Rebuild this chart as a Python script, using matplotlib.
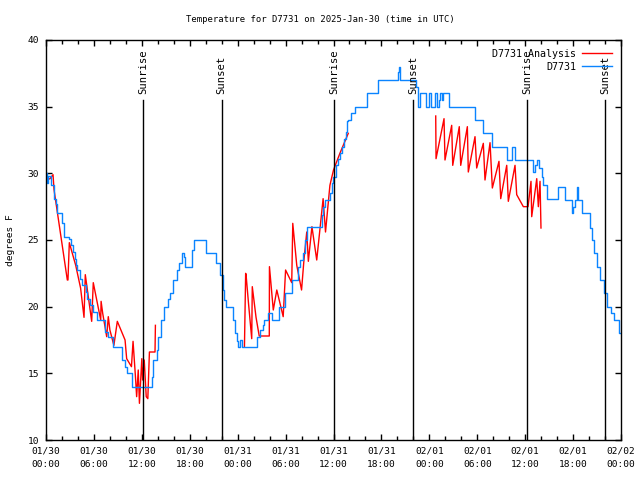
import matplotlib
matplotlib.use("Agg")
import matplotlib.pyplot as plt
import numpy as np

plt.rcParams['font.family'] = ['DejaVu Sans Mono']
plt.rcParams['font.size'] = 6.8

# hours after 2025-01-30 00:00 UTC, degrees F
obs_hours = [0.00, 0.16, 0.30, 0.59, 1.00, 1.21, 1.41, 2.04, 2.25, 2.88, 3.09, 3.38,
             3.59, 3.79, 3.92, 4.26, 4.55, 4.97, 5.17, 5.47, 5.89, 6.42, 7.39, 7.80,
             8.43, 9.48, 9.89, 10.10, 10.73, 13.02, 13.24, 13.44, 13.86, 14.06, 14.36,
             14.78, 15.31, 15.53, 15.94, 16.37, 16.69, 16.99, 17.28, 17.41, 17.94,
             18.24, 18.53, 20.00, 21.25, 21.79, 22.13, 22.29, 22.50, 23.45, 23.67,
             23.88, 24.00, 24.29, 24.50, 26.39, 26.80, 27.14, 27.34, 27.84, 28.30,
             29.18, 29.93, 30.77, 31.59, 31.80, 32.22, 32.43, 32.72, 34.52, 34.72,
             34.94, 35.56, 35.78, 35.98, 36.31, 36.60, 36.81, 37.03, 37.32, 37.53,
             37.70, 37.85, 38.13, 38.69, 40.16, 41.54, 44.04, 44.20, 44.33, 46.33,
             46.62, 46.83, 47.58, 48.00, 48.21, 48.71, 49.00, 49.25, 49.34, 49.55,
             49.75, 50.50, 53.72, 54.72, 55.85, 57.73, 58.35, 58.73, 61.02, 61.23,
             61.52, 61.73, 62.07, 62.27, 62.70, 64.15, 64.99, 65.83, 66.03, 66.24,
             66.45, 66.65, 67.07, 68.12, 68.33, 68.62, 68.99, 69.37, 69.87, 70.25,
             70.75, 71.12, 71.75, 72.00]
obs_temp = [30.0, 29.25, 29.8, 29.1, 28.1, 27.7, 27.0, 26.25, 25.25, 25.1, 24.6, 24.1,
            23.6, 23.1, 22.75, 22.1, 21.6, 21.1, 20.6, 20.1, 19.6, 19.0, 18.1, 17.75,
            17.0, 16.0, 15.5, 15.0, 14.0, 14.0, 14.75, 16.0, 16.75, 17.75, 19.0,
            20.0, 20.6, 21.0, 22.0, 22.75, 23.25, 24.0, 23.75, 23.0, 23.0,
            24.25, 25.0, 24.0, 23.25, 22.4, 21.25, 20.5, 20.0, 19.0, 18.0,
            17.4, 17.0, 17.5, 17.0, 17.75, 18.25, 18.6, 19.0, 19.5, 19.0,
            20.0, 21.0, 22.0, 23.0, 23.5, 24.0, 25.0, 26.0, 26.9, 27.5,
            28.0, 28.5, 29.25, 29.75, 30.6, 31.1, 31.5, 32.0, 32.6, 33.1,
            33.9, 34.0, 34.5, 35.0, 36.0, 37.0, 37.6, 38.0, 37.0, 36.5,
            35.0, 36.0, 35.0, 36.0, 35.0, 36.0, 35.0, 35.5, 36.0, 35.5,
            36.0, 35.0, 34.0, 33.0, 32.0, 31.0, 32.0, 31.0, 30.1, 30.6,
            31.0, 30.4, 29.75, 29.1, 28.1, 29.0, 28.0, 27.0, 27.5, 28.0,
            29.0, 28.0, 27.0, 25.9, 25.0, 24.0, 23.0, 22.0, 21.0, 20.0,
            19.5, 19.0, 18.0, 18.0]

ana_hours = [0.00, 0.50, 0.88, 1.00, 2.67, 2.75, 2.92, 3.72, 4.33, 4.76, 4.92, 5.72,
             5.92, 6.85, 6.90, 7.10, 7.60, 7.80, 8.00, 8.50, 8.93, 9.90, 10.10,
             10.70, 10.90, 11.20, 11.35, 11.55, 11.70, 12.00, 12.10, 12.30, 12.55,
             12.75, 12.95, 13.65, 13.70,
             13.71,
             24.85, 25.00, 25.05, 25.35, 25.76, 25.83, 26.30, 26.70, 27.96, 27.98,
             28.46, 28.90, 29.70, 30.00, 30.77, 30.90, 31.40, 32.00, 32.30, 32.65,
             32.85, 33.30, 33.90, 34.70, 35.00, 35.55, 36.00, 36.80, 37.85,
             37.86,
             48.80, 48.84, 49.84, 49.96, 50.80, 50.93, 51.75, 51.93, 52.76, 52.88,
             53.72, 53.93, 54.76, 54.97, 55.60, 55.89, 56.72, 56.94, 57.69, 57.89,
             58.73, 58.94, 59.77, 60.36, 60.73, 60.82, 61.45, 61.65, 61.86, 61.98]
ana_temp = [29.5, 29.6, 29.9, 28.8, 22.0, 22.0, 24.8, 23.1, 21.4, 19.2, 22.4, 18.9,
            21.8, 19.0, 20.4, 19.5, 17.75, 19.25, 18.25, 17.1, 18.9, 17.5, 16.1,
            15.5, 17.4, 14.75, 13.25, 15.25, 12.75, 16.1, 14.5, 16.0, 13.25,
            13.1, 16.6, 16.6, 18.6,
            np.nan,
            17.0, 22.5, 22.4, 20.3, 17.6, 21.5, 19.2, 17.8, 17.8, 23.0,
            19.75, 21.25, 19.25, 22.75, 21.8, 26.25, 23.1, 21.25, 23.5, 25.6,
            23.4, 26.0, 23.5, 28.1, 25.6, 29.1, 30.25, 31.5, 33.0,
            np.nan,
            34.3, 31.1, 34.1, 31.0, 33.6, 30.6, 33.5, 30.6, 33.5, 30.1,
            32.75, 30.4, 32.25, 29.5, 32.3, 28.9, 30.9, 28.1, 30.6, 27.9,
            30.6, 28.4, 27.5, 27.5, 29.4, 26.75, 29.6, 27.5, 29.4, 25.9]

sun_hours = [12.19, 22.0, 36.06, 45.95, 60.23, 70.0]
sun_names = ['Sunrise', 'Sunset', 'Sunrise', 'Sunset', 'Sunrise', 'Sunset']

tick_hours = [0, 6, 12, 18, 24, 30, 36, 42, 48, 54, 60, 66, 72]
tick_labels = ['01/30\n00:00', '01/30\n06:00', '01/30\n12:00', '01/30\n18:00',
               '01/31\n00:00', '01/31\n06:00', '01/31\n12:00', '01/31\n18:00',
               '02/01\n00:00', '02/01\n06:00', '02/01\n12:00', '02/01\n18:00',
               '02/02\n00:00']

fig = plt.figure(figsize=(6.4, 4.8), dpi=100)
ax = fig.add_axes([46 / 640, 40 / 480, 575 / 640, 400 / 480])

ax.plot(ana_hours, ana_temp, color='#ff0000', lw=1, label='D7731 Analysis')
ax.plot(obs_hours, obs_temp, color='#0a84ff', lw=1, drawstyle='steps-post', label='D7731')

for h, name in zip(sun_hours, sun_names):
    ax.plot([h, h], [10, 35.5], color='black', lw=1)
    ax.text(h, 35.95, name, rotation=90, ha='center', va='bottom', fontsize=7.6)

ax.set_xlim(0, 72)
ax.set_ylim(10, 40)
ax.set_xticks(tick_hours)
ax.set_xticklabels(tick_labels, linespacing=1.55)
ax.set_xticks(np.arange(0, 73, 2), minor=True)
ax.set_yticks(np.arange(10, 41, 5))
ax.tick_params(which='both', direction='in', top=True, right=True)
ax.tick_params(axis='x', pad=5)
ax.tick_params(axis='y', pad=5)
ax.tick_params(which='major', length=4, width=1)
ax.tick_params(which='minor', length=3, width=1)
ax.tick_params(axis='y', which='minor', length=0)
for s in ax.spines.values():
    s.set_linewidth(1)

ax.set_ylabel('degrees F', labelpad=9)
fig.text(0.5, 1 - 19 / 480, 'Temperature for D7731 on 2025-Jan-30 (time in UTC)',
         ha='center', va='center', fontsize=6.4)
ax.legend(loc='upper right', frameon=False, markerfirst=False, handlelength=3.0,
          borderaxespad=0.5, labelspacing=0.3, handletextpad=0.6, fontsize=7.2)

plt.savefig('out.png', dpi=100)
